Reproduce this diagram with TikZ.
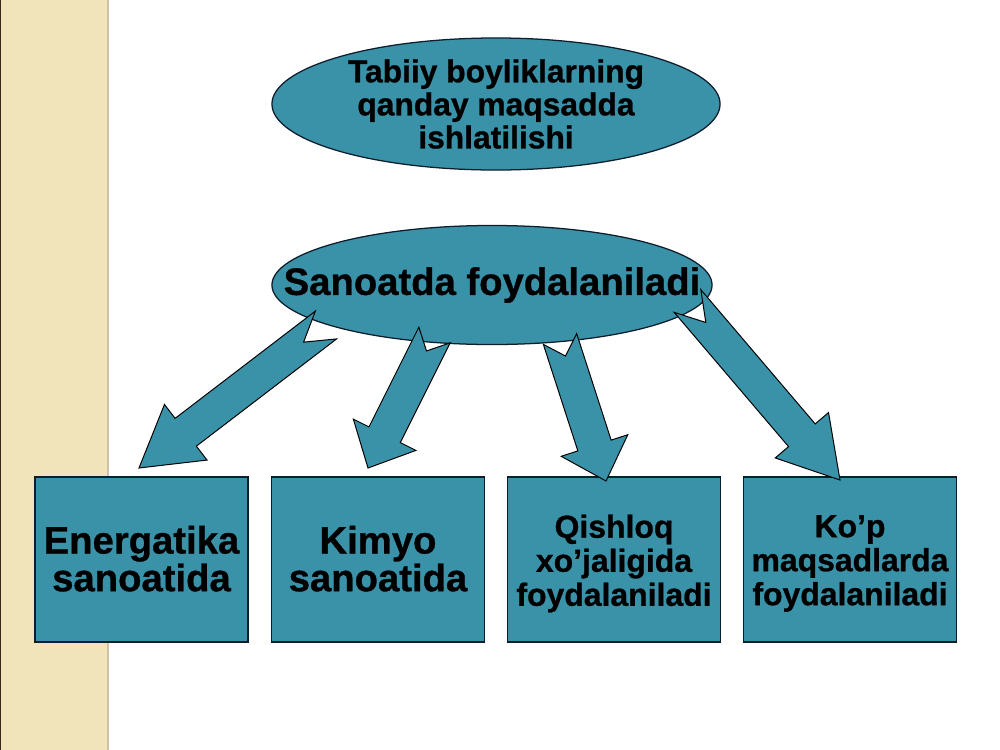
\documentclass[tikz,border=0pt]{standalone}
\usepackage{fontspec}
\setmainfont{Liberation Sans}[BoldFeatures={FakeBold=0.8}]
\usetikzlibrary{shapes.geometric, calc}
\definecolor{slideteal}{RGB}{58,146,168}
\definecolor{edgeblue}{RGB}{12,30,44}
\definecolor{stripbeige}{RGB}{241,228,186}
\definecolor{stripedge}{RGB}{205,195,165}
\newcommand{\shaftw}{0.4375cm}
\newcommand{\headw}{0.875cm}
\tikzset{
	outline/.style={draw=edgeblue, line width=0.9pt, fill=slideteal},
	oval/.style={outline, ellipse, inner sep=0pt},
	card/.style={outline, rectangle, minimum width=5.325cm, minimum height=4.125cm, inner sep=0pt},
	bigtext/.style={align=center, font=\fontsize{27.2}{26.8}\selectfont\bfseries, yshift=0.02cm},
	smalltext/.style={align=center, font=\fontsize{22.7}{24.2}\selectfont\bfseries, yshift=-0.1cm},
	arrowbody/.style={draw=black, line width=0.7pt, fill=slideteal, line join=miter}
}
% notched block arrow from #1 (tail) to #2 (tip)
\newcommand{\blockarrow}[2]{%
	\coordinate (m) at ($(#1)!0.75!(#2)$);
	\coordinate (n) at ($(#1)!0.12!(#2)$);
	\draw[arrowbody] ($(#1)!\shaftw!90:(#2)$) -- ($(m)!\shaftw!90:(#2)$)
		-- ($(m)!\headw!90:(#2)$) -- (#2)
		-- ($(m)!\headw!-90:(#2)$) -- ($(m)!\shaftw!-90:(#2)$)
		-- ($(#1)!\shaftw!-90:(#2)$) -- (n) -- cycle;
}

\begin{document}
\begin{tikzpicture}[x=0.025cm, y=-0.025cm]
	\useasboundingbox (0,0) rectangle (1000,750);
	\fill[white] (0,0) rectangle (1000,750);

	% --- left strip ---
	\fill[stripbeige] (0,0) rectangle (108,750);
	\draw[stripedge, line width=1.2pt] (108,0) -- (108,750);
	\draw[black!70!brown, line width=0.8pt] (0.5,0) -- (0.5,750);

	% --- ovals ---
	\node[oval, minimum width=11.2cm, minimum height=3.3cm,
		label={[align=center, font=\fontsize{22.6}{23.5}\selectfont\bfseries]center:Tabiiy boyliklarning\\qanday maqsadda\\ishlatilishi}]
		(top) at (496,104) {};
	\node[oval, minimum width=11cm, minimum height=2.975cm,
		label={[font=\fontsize{27.2}{28}\selectfont\bfseries]center:Sanoatda foydalaniladi}]
		(ind) at (492,285) {};

	% --- boxes ---
	\node[card, label={[bigtext]center:Energatika\\sanoatida}] (en) at (141.5,559.5) {};
	\node[card, label={[bigtext]center:Kimyo\\sanoatida}] (ki) at (378,559.5) {};
	\node[card, label={[smalltext]center:Qishloq\\xo’jaligida\\foydalaniladi}] (qx) at (614,559.5) {};
	\node[card, label={[smalltext]center:Ko’p\\maqsadlarda\\foydalaniladi}] (kp) at (850,559.5) {};

	% --- arrows ---
	\coordinate (s1) at (326,325);   \coordinate (e1) at (139,468);
	\coordinate (s2) at (434.5,335); \coordinate (e2) at (368,468);
	\coordinate (s3) at (560,339);   \coordinate (e3) at (606,481);
	\coordinate (s4) at (687.5,301); \coordinate (e4) at (840,480);
	\foreach \a/\b in {s1/e1, s2/e2, s3/e3, s4/e4} \blockarrow{\a}{\b};
\end{tikzpicture}
\end{document}
